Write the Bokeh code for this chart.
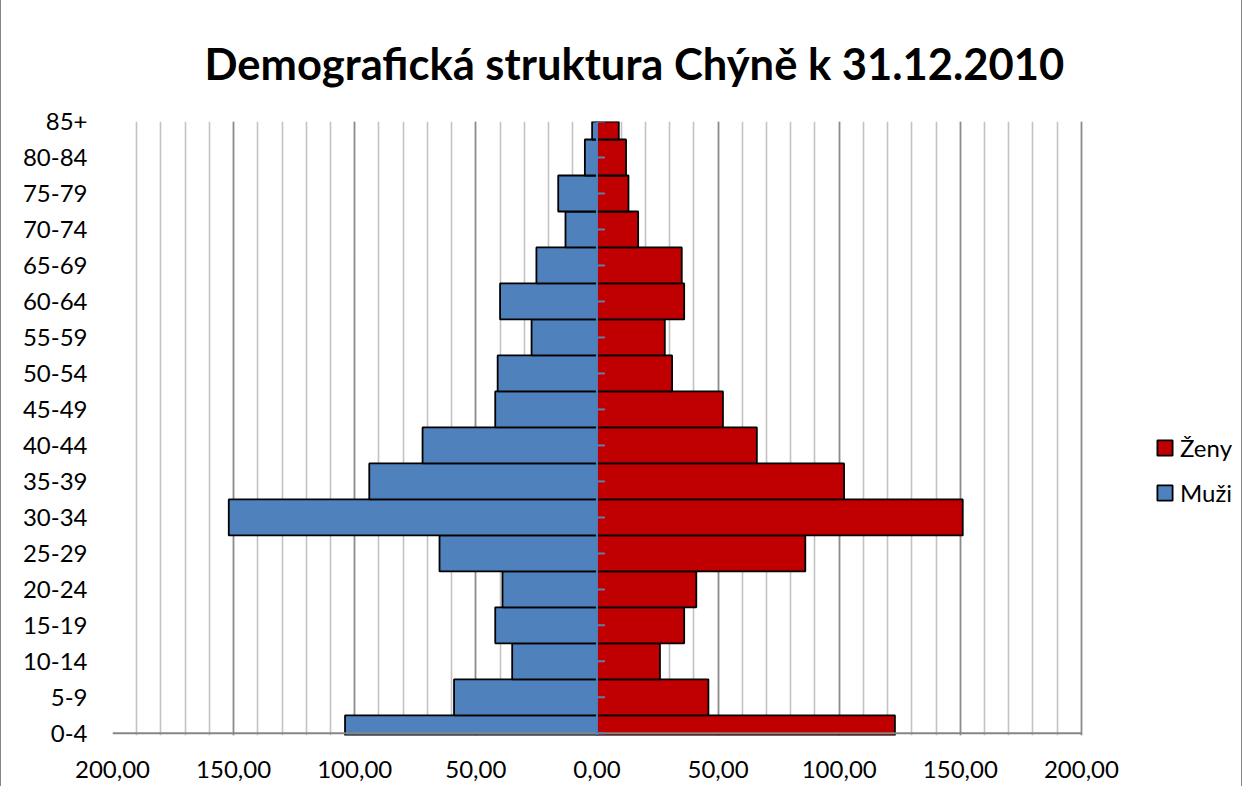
from bokeh.plotting import figure
from bokeh.models import ColumnDataSource, Range1d, FixedTicker, Legend, LegendItem, Span
from bokeh.embed import file_html
from bokeh.resources import INLINE

# ---- data ----
categories = ["0-4", "5-9", "10-14", "15-19", "20-24", "25-29", "30-34", "35-39",
              "40-44", "45-49", "50-54", "55-59", "60-64", "65-69", "70-74",
              "75-79", "80-84", "85+"]
muzi = [104, 59, 35, 42, 39, 65, 152, 94, 72, 42, 41, 27, 40, 25, 13, 16, 5, 2]
zeny = [123, 46, 26, 36, 41, 86, 151, 102, 66, 52, 31, 28, 36, 35, 17, 13, 12, 9]
x_ticks = [-200, -150, -100, -50, 0, 50, 100, 150, 200]
x_tick_labels = ["200,00", "150,00", "100,00", "50,00", "0,00", "50,00",
                 "100,00", "150,00", "200,00"]
x_minor_ticks = list(range(-200, 201, 10))
title_text = "Demografická struktura Chýně k 31.12.2010"

FONT = "Lato"

idx = list(range(len(categories)))
source = ColumnDataSource(dict(
    y=idx,
    muzi_left=[-v for v in muzi],
    zeny=zeny,
))

# frame extends to the right edge so the legend (drawn inside the frame) is not clipped
p = figure(width=1242, height=786,
           x_range=Range1d(x_ticks[0], 266.9),
           y_range=Range1d(-0.06, len(categories) - 1),
           output_backend="svg", toolbar_location=None,
           min_border_left=111, min_border_right=0,
           min_border_top=121, min_border_bottom=51)
p.styles = {"border-left": "1px solid #868686", "border-right": "1px solid #868686"}
p.outline_line_color = None
p.background_fill_color = "white"
p.border_fill_color = "white"

# title
p.title.text = title_text
p.title.text_font = FONT
p.title.text_font_style = "bold"
p.title.text_font_size = "43.5px"
p.title.text_color = "black"
p.title.align = "left"
p.title.offset = 92
p.title.standoff = 65

# grid
ticker = FixedTicker(ticks=x_ticks, minor_ticks=x_minor_ticks)
p.xaxis.ticker = ticker
p.xgrid.ticker = ticker
p.xgrid.grid_line_color = "#8c8c8c"
p.xgrid.grid_line_width = 1.6
p.xgrid.minor_grid_line_color = "#c3c3c3"
p.xgrid.minor_grid_line_width = 1.6
p.ygrid.grid_line_color = None

# x axis (labels only; base line drawn below between first and last tick)
p.xaxis.major_label_overrides = {t: l for t, l in zip(x_ticks, x_tick_labels)}
p.xaxis.major_tick_line_color = None
p.xaxis.minor_tick_line_color = None
p.xaxis.major_tick_out = 0
p.xaxis.major_tick_in = 0
p.xaxis.axis_line_color = None
p.xaxis.major_label_text_font = FONT
p.xaxis.major_label_text_font_size = "24px"
p.xaxis.major_label_text_color = "black"
p.xaxis.major_label_standoff = 21

# y axis (labels only)
p.yaxis.ticker = FixedTicker(ticks=idx)
p.yaxis.major_label_overrides = {i: c for i, c in zip(idx, categories)}
p.yaxis.axis_line_color = None
p.yaxis.major_tick_line_color = None
p.yaxis.minor_tick_line_color = None
p.yaxis.major_tick_out = 0
p.yaxis.major_tick_in = 0
p.yaxis.major_label_text_font = FONT
p.yaxis.major_label_text_font_size = "24px"
p.yaxis.major_label_text_color = "black"
p.yaxis.major_label_standoff = 25

# bars
r_z = p.hbar(y="y", left=0, right="zeny", height=1.0, source=source,
             fill_color="#C00000", line_color="black", line_width=1.8)
r_m = p.hbar(y="y", left="muzi_left", right=0, height=1.0, source=source,
             fill_color="#4F81BD", line_color="black", line_width=1.8)

# value axis base line
p.segment(x0=x_ticks[0], y0=idx[0], x1=x_ticks[-1], y1=idx[0],
          line_color="#868686", line_width=2)

# central category axis with ticks
p.segment(x0=0, y0="y", x1=3.3, y1="y", source=source,
          line_color="#5b7fb5", line_width=2)
p.add_layout(Span(location=0, dimension="height", line_color="#4F81BD", line_width=2))

legend = Legend(items=[LegendItem(label="Ženy", renderers=[r_z]),
                       LegendItem(label="Muži", renderers=[r_m])],
                location=(1043, 228))
legend.label_text_font = FONT
legend.label_text_font_size = "24px"
legend.label_text_color = "black"
legend.glyph_width = 19
legend.glyph_height = 19
legend.spacing = 16
legend.padding = 0
legend.margin = 0
legend.label_standoff = 6
legend.border_line_color = None
legend.background_fill_alpha = 0
p.add_layout(legend)

open("out.html", "w").write(file_html(p, INLINE))
